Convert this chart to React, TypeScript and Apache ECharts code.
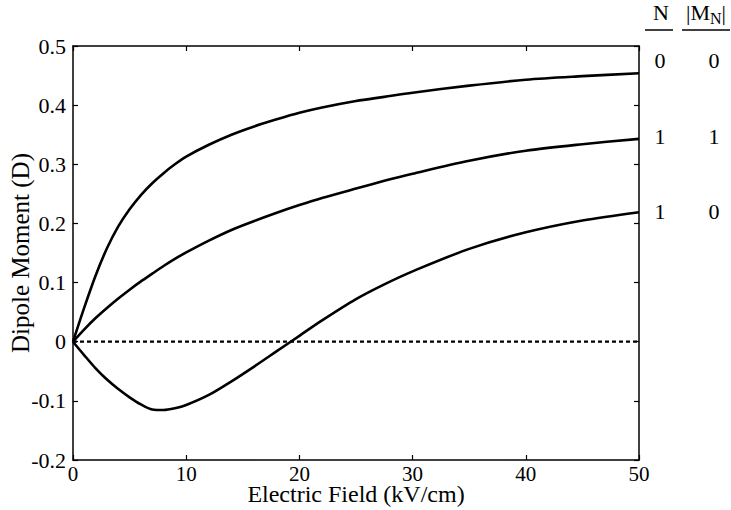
import React, { useEffect, useRef } from "react";
import * as echarts from "echarts";

const fieldValues = [0, 1, 2, 3, 4, 5, 6, 7, 8, 9, 10, 12, 14, 16, 18, 20, 22, 25, 27.5, 30, 35, 40, 45, 50];
const dipoleN0M0 = [0, 0.058, 0.112, 0.158, 0.195, 0.224, 0.248, 0.268, 0.285, 0.3, 0.313, 0.333, 0.35, 0.364, 0.376, 0.387, 0.396, 0.407, 0.414, 0.421, 0.433, 0.443, 0.449, 0.454];
const dipoleN1M1 = [0, 0.021, 0.04, 0.057, 0.073, 0.088, 0.102, 0.115, 0.128, 0.14, 0.151, 0.171, 0.189, 0.204, 0.218, 0.231, 0.243, 0.259, 0.272, 0.284, 0.306, 0.323, 0.334, 0.343];
const dipoleN1M0 = [0, -0.023, -0.045, -0.064, -0.08, -0.094, -0.106, -0.1145, -0.1155, -0.1125, -0.107, -0.09, -0.067, -0.042, -0.016, 0.01, 0.036, 0.072, 0.097, 0.119, 0.157, 0.185, 0.205, 0.219];
const zeroLineX = [0, 50];
const zeroLineY = [0, 0];

const stateRows = [
  { n: "0", m: "0" },
  { n: "1", m: "1" },
  { n: "1", m: "0" },
];
const xTitle = "Electric Field (kV/cm)";
const yTitle = "Dipole Moment (D)";

const FONT = "'Liberation Serif', 'Times New Roman', serif";

export default function App() {
  const ref = useRef<HTMLDivElement>(null);
  useEffect(() => {
    document.body.style.margin = "0";
    if (!ref.current) return;
    const chart = echarts.init(ref.current, undefined, { renderer: "svg" });
    const pair = (ys: number[]) => fieldValues.map((x, i) => [x, ys[i]]);
    const lineStyle = { color: "#000", width: 2.6 };
    const axisCommon = {
      type: "value" as const,
      min: 0,
      max: 50,
      interval: 10,
      axisLine: { show: true, onZero: false, lineStyle: { color: "#000", width: 1.5 } },
      axisTick: { show: true, inside: true, length: 5, lineStyle: { color: "#000", width: 1.2 } },
      splitLine: { show: false },
    };
    const yCommon = {
      type: "value" as const,
      min: -0.2,
      max: 0.5,
      interval: 0.1,
      axisLine: { show: true, onZero: false, lineStyle: { color: "#000", width: 1.5 } },
      axisTick: { show: true, inside: true, length: 5, lineStyle: { color: "#000", width: 1.2 } },
      splitLine: { show: false },
    };
    const rowY = [60, 136, 211];
    const graphics: any[] = [
      {
        type: "text",
        x: 661,
        y: 12,
        style: { text: "N", font: `22px ${FONT}`, fill: "#000", align: "center", verticalAlign: "middle" },
      },
      {
        type: "text",
        x: 706,
        y: 12,
        style: {
          text: "|M{s|N}|",
          font: `22px ${FONT}`,
          fill: "#000",
          align: "center",
          verticalAlign: "middle",
          rich: { s: { fontSize: 16, fontFamily: FONT, verticalAlign: "bottom", padding: [12, 0, 0, 0] } },
        },
      },
      { type: "line", shape: { x1: 645, y1: 30, x2: 673, y2: 30 }, style: { stroke: "#000", lineWidth: 1.5 } },
      { type: "line", shape: { x1: 682, y1: 30, x2: 730, y2: 30 }, style: { stroke: "#000", lineWidth: 1.5 } },
    ];
    stateRows.forEach((r, i) => {
      graphics.push({
        type: "text",
        x: 660,
        y: rowY[i],
        style: { text: r.n, font: `22px ${FONT}`, fill: "#000", align: "center", verticalAlign: "middle" },
      });
      graphics.push({
        type: "text",
        x: 714,
        y: rowY[i],
        style: { text: r.m, font: `22px ${FONT}`, fill: "#000", align: "center", verticalAlign: "middle" },
      });
    });

    chart.setOption({
      animation: false,
      backgroundColor: "#fff",
      grid: { left: 73, right: 92, top: 46, bottom: 50, containLabel: false, outerBoundsMode: "none" },
      xAxis: [
        {
          ...axisCommon,
          position: "bottom",
          name: xTitle,
          nameLocation: "middle",
          nameGap: 26,
          nameMoveOverlap: false,
          nameTextStyle: { fontFamily: FONT, fontSize: 24, lineHeight: 16, color: "#000" },
          axisLabel: { color: "#000", fontFamily: FONT, fontSize: 21, lineHeight: 16, margin: 6 },
        },
        { ...axisCommon, position: "top", axisLabel: { show: false } },
      ],
      yAxis: [
        {
          ...yCommon,
          position: "left",
          name: yTitle,
          nameLocation: "middle",
          nameGap: 40,
          nameMoveOverlap: false,
          nameRotate: 90,
          nameTextStyle: { fontFamily: FONT, fontSize: 25, color: "#000" },
          axisLabel: {
            color: "#000",
            fontFamily: FONT,
            fontSize: 22,
            margin: 7,
            formatter: (v: number) => String(Math.round(v * 10) / 10),
          },
        },
        { ...yCommon, position: "right", axisLabel: { show: false } },
      ],
      graphic: graphics,
      series: [
        { type: "line", data: pair(dipoleN0M0), smooth: 0.3, showSymbol: false, lineStyle },
        { type: "line", data: pair(dipoleN1M1), smooth: 0.3, showSymbol: false, lineStyle },
        { type: "line", data: pair(dipoleN1M0), smooth: 0.3, showSymbol: false, lineStyle },
        {
          type: "line",
          data: zeroLineX.map((x, i) => [x, zeroLineY[i]]),
          showSymbol: false,
          lineStyle: { color: "#000", width: 2.2, type: [4, 3] },
        },
      ],
    });
    return () => chart.dispose();
  }, []);
  return <div ref={ref} style={{ width: 731, height: 510 }} />;
}
